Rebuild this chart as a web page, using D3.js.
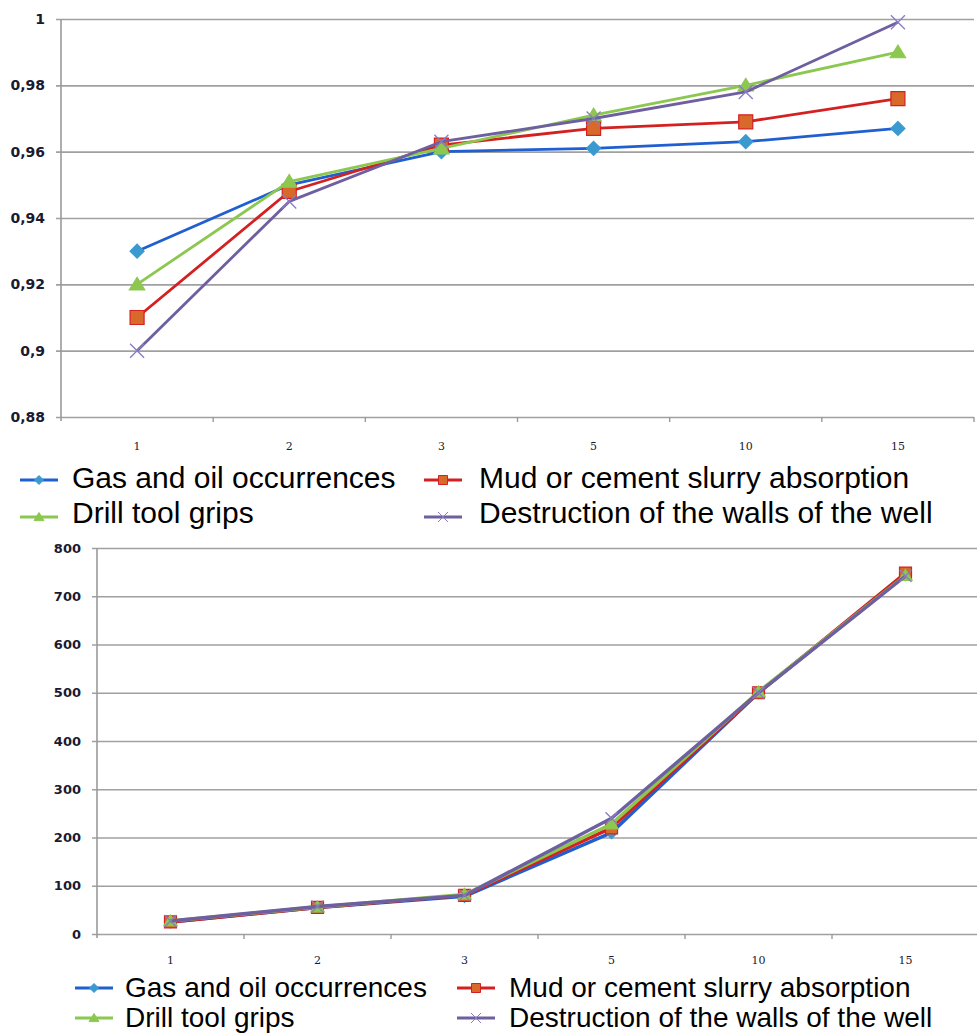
<!DOCTYPE html>
<html>
<head>
<meta charset="utf-8">
<script src="https://cdn.jsdelivr.net/npm/d3@7"></script>
<style>
  body { margin: 0; background: #fff; }
  svg { display: block; }
  .ylab { font-family: "DejaVu Sans", Verdana, sans-serif; fill: #1a1a30; font-weight: 600; }
  .xlab { font-family: "DejaVu Serif", "Liberation Serif", serif; fill: #1a1a30; }
  .leg { font-family: "Liberation Sans", Arial, sans-serif; fill: #000; }
</style>
</head>
<body>
<div id="chart"></div>
<script>
// categories (x axis)
const categories = ["1", "2", "3", "5", "10", "15"];
const seriesNames = [
  "Gas and oil occurrences",
  "Mud or cement slurry absorption",
  "Drill tool grips",
  "Destruction of the walls of the well"
];

// top chart values
const topGas = [0.930, 0.950, 0.960, 0.961, 0.963, 0.967];
const topMud = [0.910, 0.948, 0.962, 0.967, 0.969, 0.976];
const topGrip = [0.920, 0.951, 0.961, 0.971, 0.980, 0.990];
const topWalls = [0.900, 0.945, 0.963, 0.970, 0.978, 0.999];
const topTicks = [0.88, 0.90, 0.92, 0.94, 0.96, 0.98, 1.00];

// bottom chart values
const botGas = [25, 55, 78, 210, 500, 745];
const botMud = [25, 55, 80, 220, 500, 748];
const botGrip = [27, 56, 82, 228, 502, 743];
const botWalls = [27, 57, 80, 240, 500, 742];
const botTicks = [0, 100, 200, 300, 400, 500, 600, 700, 800];

const styles = [
  { line: "#1f5fd0", fill: "#3a9ad0", stroke: "#3a9ad0", shape: "diamond" },
  { line: "#d42020", fill: "#d8692a", stroke: "#d42020", shape: "square" },
  { line: "#8cc850", fill: "#8cc850", stroke: "#8cc850", shape: "triangle" },
  { line: "#6e5fa0", fill: "none", stroke: "#8a7cc0", shape: "x" }
];

function markerPath(shape, s) {
  const p = d3.path();
  if (shape === "diamond") {
    p.moveTo(0, -s); p.lineTo(s, 0); p.lineTo(0, s); p.lineTo(-s, 0); p.closePath();
  } else if (shape === "square") {
    p.rect(-s, -s, 2 * s, 2 * s);
  } else if (shape === "triangle") {
    p.moveTo(0, -s); p.lineTo(s * 1.1, s * 0.8); p.lineTo(-s * 1.1, s * 0.8); p.closePath();
  } else {
    p.moveTo(-s, -s); p.lineTo(s, s); p.moveTo(s, -s); p.lineTo(-s, s);
  }
  return p.toString();
}

const svg = d3.select("#chart").append("svg")
  .attr("width", 977).attr("height", 1033);

function drawChart(cfg) {
  const g = svg.append("g");
  const x = d3.scaleBand().domain(categories).range([cfg.left, cfg.right]);
  const y = d3.scaleLinear().domain(cfg.domain).range([cfg.bottom, cfg.top]);

  // y axis + gridlines
  const yAxis = g.append("g")
    .attr("transform", `translate(${cfg.left},0)`)
    .call(d3.axisLeft(y).tickValues(cfg.ticks).tickFormat(cfg.format)
      .tickSize(-(cfg.gridRight - cfg.left)).tickPadding(cfg.yPad));
  yAxis.select(".domain").remove();
  yAxis.selectAll(".tick line").attr("x1", -5).attr("stroke", "#a0a0a0").attr("stroke-width", 1.6);
  yAxis.selectAll(".tick text").attr("class", "ylab").attr("font-size", cfg.yFont);

  // vertical axis line
  g.append("line")
    .attr("x1", cfg.left).attr("x2", cfg.left)
    .attr("y1", cfg.top).attr("y2", cfg.bottom + 4)
    .attr("stroke", "#9a9a9a").attr("stroke-width", 1.6);

  // x axis labels at category centers
  const xAxis = g.append("g")
    .attr("transform", `translate(0,${cfg.bottom})`)
    .call(d3.axisBottom(x).tickSize(0).tickPadding(cfg.xPad));
  xAxis.select(".domain").remove();
  xAxis.selectAll(".tick text").attr("class", "xlab").attr("font-size", 11);

  // tick marks at category boundaries
  const bounds = categories.map(c => x(c)).concat([x.range()[1]]).slice(1);
  g.selectAll(".xtick").data(bounds).enter().append("line")
    .attr("x1", d => d).attr("x2", d => d)
    .attr("y1", cfg.bottom).attr("y2", cfg.bottom + 5)
    .attr("stroke", "#9a9a9a").attr("stroke-width", 1.4);

  const line = d3.line()
    .x((d, i) => x(categories[i]) + x.bandwidth() / 2)
    .y(d => y(d));

  cfg.series.forEach((vals, k) => {
    const st = styles[k];
    g.append("path").datum(vals)
      .attr("d", line)
      .attr("fill", "none")
      .attr("stroke", st.line)
      .attr("stroke-width", cfg.lineWidth)
      .attr("stroke-linejoin", "round");
    g.selectAll(".m" + k).data(vals).enter().append("path")
      .attr("transform", (d, i) => `translate(${x(categories[i]) + x.bandwidth() / 2},${y(d)})`)
      .attr("d", markerPath(st.shape, cfg.marker))
      .attr("fill", st.fill)
      .attr("stroke", st.stroke)
      .attr("stroke-width", st.shape === "x" ? 1.3 : 1.2);
  });

  // legend
  const legend = g.append("g");
  seriesNames.forEach((name, k) => {
    const st = styles[k];
    const col = k % 2, row = Math.floor(k / 2);
    const sx = cfg.legSymX[col], tx = cfg.legTextX[col];
    const ly = cfg.legLineY[row], by = cfg.legBaseY[row];
    legend.append("line")
      .attr("x1", sx).attr("x2", sx + 38).attr("y1", ly).attr("y2", ly)
      .attr("stroke", st.line).attr("stroke-width", 3);
    legend.append("path")
      .attr("transform", `translate(${sx + 19},${ly})`)
      .attr("d", markerPath(st.shape, st.shape === "x" ? 5 : 4.5))
      .attr("fill", st.fill).attr("stroke", st.stroke).attr("stroke-width", 1);
    legend.append("text")
      .attr("class", "leg")
      .attr("x", tx).attr("y", by)
      .attr("font-size", cfg.legFont)
      .text(name);
  });
}

const fmtTop = d => String(+d.toFixed(2)).replace(".", ",");

drawChart({
  left: 61, right: 974, gridRight: 974, top: 19, bottom: 417,
  domain: [0.88, 1.0], ticks: topTicks, format: fmtTop,
  yFont: 14, yPad: 16, xPad: 25, lineWidth: 2.8, marker: 7,
  series: [topGas, topMud, topGrip, topWalls],
  legSymX: [20, 424], legTextX: [72, 479],
  legLineY: [480, 517], legBaseY: [488, 523], legFont: 30
});

drawChart({
  left: 97, right: 979, gridRight: 977, top: 548, bottom: 934,
  domain: [0, 800], ticks: botTicks, format: d3.format("d"),
  yFont: 13, yPad: 16, xPad: 22, lineWidth: 3.4, marker: 6,
  series: [botGas, botMud, botGrip, botWalls],
  legSymX: [75, 457], legTextX: [125, 509],
  legLineY: [988, 1018], legBaseY: [997, 1027], legFont: 28
});
</script>
</body>
</html>
